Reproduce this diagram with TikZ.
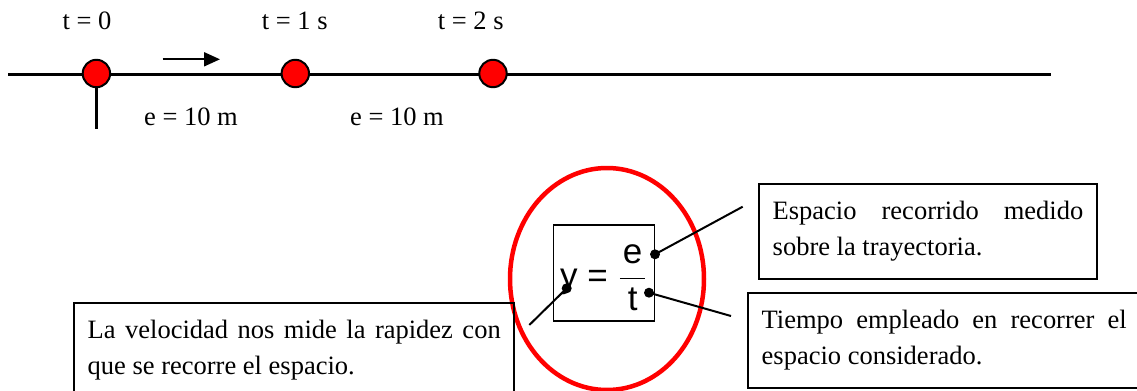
\documentclass[tikz,border=0pt]{standalone}
\usepackage{fontspec}
\setmainfont{Liberation Serif}
\setsansfont{Liberation Sans}
\usetikzlibrary{arrows.meta, positioning}
\hyphenpenalty=10000
\exhyphenpenalty=10000
\tolerance=10000

\begin{document}
\begin{tikzpicture}[
  x=0.5pt, y=-0.5pt,
  font=\fontsize{13.25}{18}\selectfont,
  mark0/.style={circle, draw, fill=red, minimum size=13.7pt, inner sep=0pt, line width=1pt},
  lbl/.style={anchor=base, inner sep=0pt},
  note/.style={draw, line width=1pt, anchor=north west, align=justify,
               inner xsep=6.85pt, inner ysep=8.75pt},
  dot/.style={circle, fill, minimum size=5pt, inner sep=0pt},
  lnk/.style={line width=1pt},
  arr/.style={-{Triangle[length=8pt, width=7pt]}, line width=1pt}
]
  \useasboundingbox (0,0) rectangle (1137,391);

  % trajectory
  \coordinate (start) at (8,74);
  \coordinate (finish) at (1051,74);
  \draw[line width=1.5pt] (start) -- (finish);
  \node[mark0] (p0) at (96.4,73.5) {};
  \node[mark0] (p1) at (295.3,73.5) {};
  \node[mark0] (p2) at (493,73.5) {};
  \coordinate (foot) at (96.4,129);
  \draw[line width=1.25pt] (p0.south) -- (foot);

  \coordinate (a1) at (162.7,59.3);
  \coordinate (a2) at (220,59.3);
  \draw[arr] (a1) -- (a2);

  \node[lbl] (t0) at (87,30) {t = 0};
  \node[lbl] (t1) at (294.7,30) {t = 1 s};
  \node[lbl] (t2) at (470.8,30) {t = 2 s};
  \node[lbl] (e1) at (191,126) {e = 10 m};
  \node[lbl] (e2) at (397,126) {e = 10 m};

  % formula
  \draw[red, line width=2.25pt] (607,279) ellipse [x radius=97, y radius=111];
  \node[draw, line width=0.75pt, minimum width=50.5pt, minimum height=48pt, inner sep=0pt]
    (frm) at (604,273) {};
  \node[inner sep=0pt, font=\fontsize{17.5}{21}\selectfont\sffamily] (eq) at (604,278)
    {y = $\displaystyle\frac{\mbox{\kern1.5pt e\kern1.5pt}}{\mbox{t}}$};

  \node[note, text width=206.5pt] (velo) at (73,302)
    {La velocidad nos mide la rapidez con que se recorre el espacio.};
  \node[note, text width=155.3pt] (espa) at (758,183)
    {Espacio recorrido medido sobre la trayectoria.};
  \node[note, text width=182.5pt] (tiem) at (747,292)
    {Tiempo empleado en recorrer el espacio considerado.};

  \node[dot] (de) at (655,254.3) {};
  \node[dot] (dt) at (649,292.7) {};
  \node[dot] (dy) at (566.7,288.3) {};
  \coordinate (ce) at (742.7,206.7);
  \coordinate (ct) at (731,316);
  \coordinate (cy) at (529.3,325);
  \draw[lnk] (de.center) -- (ce);
  \draw[lnk] (dt.center) -- (ct);
  \draw[lnk] (dy.center) -- (cy);
\end{tikzpicture}
\end{document}
